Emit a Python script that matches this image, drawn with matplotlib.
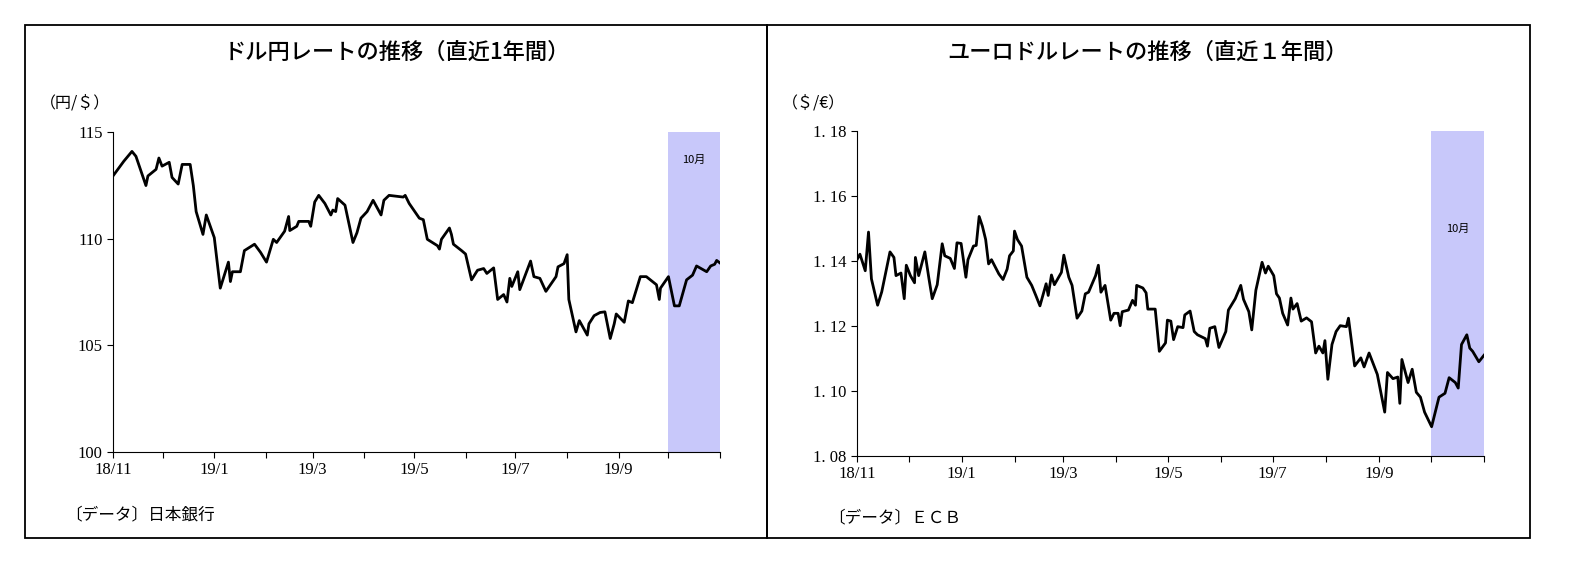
import matplotlib
matplotlib.use("Agg")
import matplotlib.pyplot as plt
from matplotlib.patches import Rectangle

# day offset from 2018-11-01
usd_days = [0,6.5,11.4,13.8,19.8,21.0,25.9,27.6,29.5,33.8,35.5,39.2,41.6,46.4,48.3,50.0,54.1,56.1,60.9,64.5,69.4,70.6,71.8,76.6,79.0,85.1,88.7,92.3,96.4,98.4,103.2,105.6,106.3,110.5,111.7,117.7,118.9,121.3,123.7,127.4,131.0,132.2,133.9,135.1,139.5,144.3,146.7,149.1,152.8,156.4,161.2,162.9,166.0,174.5,175.7,178.1,184.2,186.6,189.0,195.1,196.3,197.5,202.3,203.5,204.7,209.6,212.0,215.6,219.2,222.9,224.8,228.9,231.3,234.9,236.9,238.6,239.8,243.4,244.6,251.1,253.1,256.7,260.3,266.4,267.6,271.2,273.1,274.1,278.4,280.4,285.2,286.2,289.3,292.9,295.8,299.0,301.4,302.6,307.4,309.9,312.3,317.1,320.7,326.8,328.5,329.2,334.0,337.6,340.5,344.9,348.5,350.9,357.0,359.4,361.8,363.0,365.0]
usd_jpy = [112.94,113.63,114.09,113.86,112.49,112.94,113.25,113.78,113.40,113.58,112.87,112.56,113.48,113.48,112.49,111.27,110.20,111.11,110.05,107.68,108.90,107.99,108.45,108.45,109.44,109.74,109.36,108.90,109.97,109.82,110.35,111.04,110.38,110.58,110.81,110.81,110.58,111.72,112.03,111.65,111.11,111.34,111.27,111.88,111.57,109.82,110.28,110.96,111.27,111.80,111.11,111.80,112.03,111.95,112.03,111.65,110.96,110.89,109.97,109.67,109.51,109.97,110.50,110.20,109.74,109.44,109.28,108.07,108.52,108.60,108.37,108.63,107.15,107.38,107.03,108.14,107.76,108.45,107.61,108.95,108.22,108.14,107.53,108.22,108.68,108.83,109.25,107.15,105.63,106.16,105.48,106.01,106.39,106.54,106.57,105.32,106.01,106.47,106.08,107.08,107.00,108.22,108.22,107.84,107.15,107.68,108.22,106.85,106.85,108.07,108.29,108.72,108.45,108.72,108.80,108.98,108.86]

eur_days = [0,1.7,4.8,6.7,8.4,12.0,14.4,19.2,21.5,22.7,25.6,27.5,28.7,31.1,33.5,34.0,35.9,39.5,41.9,43.8,46.7,49.6,51.1,54.3,56.7,58.2,60.6,63.4,64.6,67.8,69.4,71.1,73.0,74.9,76.6,78.3,82.6,85.0,87.4,88.8,91.0,91.7,93.4,95.8,98.9,101.7,104.1,106.5,110.1,111.3,113.2,114.9,119.0,120.4,123.3,125.2,128.1,130.9,132.9,134.8,138.9,140.5,142.0,144.4,147.7,149.6,152.0,153.2,154.4,158.0,160.4,162.1,162.8,166.4,168.3,169.3,173.6,176.0,179.6,180.7,182.7,184.3,186.7,189.8,190.8,193.9,196.3,198.2,202.8,204.0,205.4,208.3,210.7,214.7,216.2,220.2,223.4,225.0,228.1,229.8,232.2,235.8,237.8,239.4,242.6,244.2,245.9,247.8,250.7,252.6,253.8,256.2,258.6,261.7,264.6,267.0,268.9,271.2,272.4,274.1,276.5,278.9,281.3,284.9,286.1,289.7,293.3,295.2,298.1,302.9,307.2,308.8,312.0,314.8,316.0,317.2,320.8,323.2,325.6,328.0,330.4,334.5,338.8,342.3,344.7,348.3,350.0,351.9,355.0,356.7,358.4,362.0,365.0]
eur_usd = [1.1404,1.1421,1.1370,1.1489,1.1345,1.1264,1.1305,1.1428,1.1411,1.1355,1.1363,1.1284,1.1387,1.1355,1.1333,1.1411,1.1355,1.1428,1.1345,1.1284,1.1327,1.1453,1.1416,1.1408,1.1377,1.1456,1.1454,1.1350,1.1404,1.1446,1.1448,1.1537,1.1507,1.1466,1.1391,1.1404,1.1360,1.1343,1.1375,1.1416,1.1431,1.1492,1.1466,1.1446,1.1350,1.1325,1.1294,1.1262,1.1330,1.1294,1.1357,1.1327,1.1365,1.1418,1.1350,1.1325,1.1224,1.1246,1.1299,1.1304,1.1355,1.1387,1.1304,1.1325,1.1218,1.1239,1.1239,1.1201,1.1244,1.1249,1.1279,1.1264,1.1325,1.1317,1.1302,1.1252,1.1252,1.1122,1.1148,1.1218,1.1215,1.1158,1.1198,1.1195,1.1234,1.1246,1.1183,1.1173,1.1161,1.1138,1.1193,1.1198,1.1134,1.1183,1.1249,1.1284,1.1325,1.1282,1.1244,1.1188,1.1310,1.1396,1.1363,1.1384,1.1355,1.1299,1.1286,1.1239,1.1203,1.1286,1.1252,1.1269,1.1215,1.1225,1.1213,1.1117,1.1138,1.1117,1.1155,1.1036,1.1143,1.1183,1.1201,1.1198,1.1224,1.1077,1.1102,1.1074,1.1117,1.1051,1.0935,1.1057,1.1038,1.1043,1.0962,1.1097,1.1026,1.1067,1.0996,1.0981,1.0935,1.0890,1.0981,1.0993,1.1041,1.1026,1.1009,1.1143,1.1173,1.1132,1.1122,1.1090,1.1110]

month_ticks = [0,30,61,92,120,151,181,212,242,273,304,334,365]
label_ticks = [0,61,120,181,242,304]
tick_labels = ["18/11","19/1","19/3","19/5","19/7","19/9"]
oct_start, oct_end = 334, 365

jp = "Noto Sans CJK JP"
serif = "Liberation Serif"

fig = plt.figure(figsize=(15.95, 5.74), dpi=100)
for x0, x1 in [(25, 767), (767, 1530)]:
    fig.patches.append(Rectangle((x0/1595, 1-538/574), (x1-x0)/1595, 513/574,
                                 transform=fig.transFigure, fill=False, ec="black", lw=1.3))

def setup(ax, ylim, yticks, ylabels, unit, title, src, tx, unitx, srcx, srcy, octy):
    ax.axvspan(oct_start, oct_end, color="#c8c8fa", lw=0)
    ax.set_xlim(0, 365)
    ax.set_ylim(*ylim)
    ax.set_yticks(yticks)
    ax.set_yticklabels(ylabels, fontfamily=serif, fontsize=12)
    ax.set_xticks(month_ticks, minor=True)
    ax.set_xticks(label_ticks)
    ax.set_xticklabels(tick_labels, fontfamily=serif, fontsize=12)
    ax.tick_params(which="both", direction="out", length=4, width=0.8)
    for s in ["top", "right"]:
        ax.spines[s].set_visible(False)
    ax.text((oct_start+oct_end)/2, octy, "10月", fontfamily=jp, fontsize=8, ha="center", va="center")
    fig.text(tx/1595, 1-52/574, title, fontfamily=jp, fontsize=16, fontweight="medium", ha="center", va="center")
    fig.text(unitx/1595, 1-103/574, unit, fontfamily=jp, fontsize=11.5, ha="left", va="center")
    fig.text(srcx/1595, 1-srcy/574, src, fontfamily=jp, fontsize=12, ha="left", va="center")

ax1 = fig.add_axes([113/1595, 1-452/574, 607/1595, 320/574])
ax1.plot(usd_days, usd_jpy, color="black", lw=2)
setup(ax1, (100, 115), [100,105,110,115], ["100","105","110","115"], "（円/＄）",
      "ドル円レートの推移（直近1年間）", "〔データ〕日本銀行", 397, 40, 65, 515, 113.7)

ax2 = fig.add_axes([857/1595, 1-456/574, 627/1595, 325/574])
ax2.plot(eur_days, eur_usd, color="black", lw=2)
setup(ax2, (1.08, 1.18), [1.08,1.10,1.12,1.14,1.16,1.18],
      ["1. 08","1. 10","1. 12","1. 14","1. 16","1. 18"], "（＄/€）",
      "ユーロドルレートの推移（直近１年間）", "〔データ〕ＥＣＢ", 1148, 782, 828, 518, 1.15)

fig.savefig("out.png", dpi=100)
